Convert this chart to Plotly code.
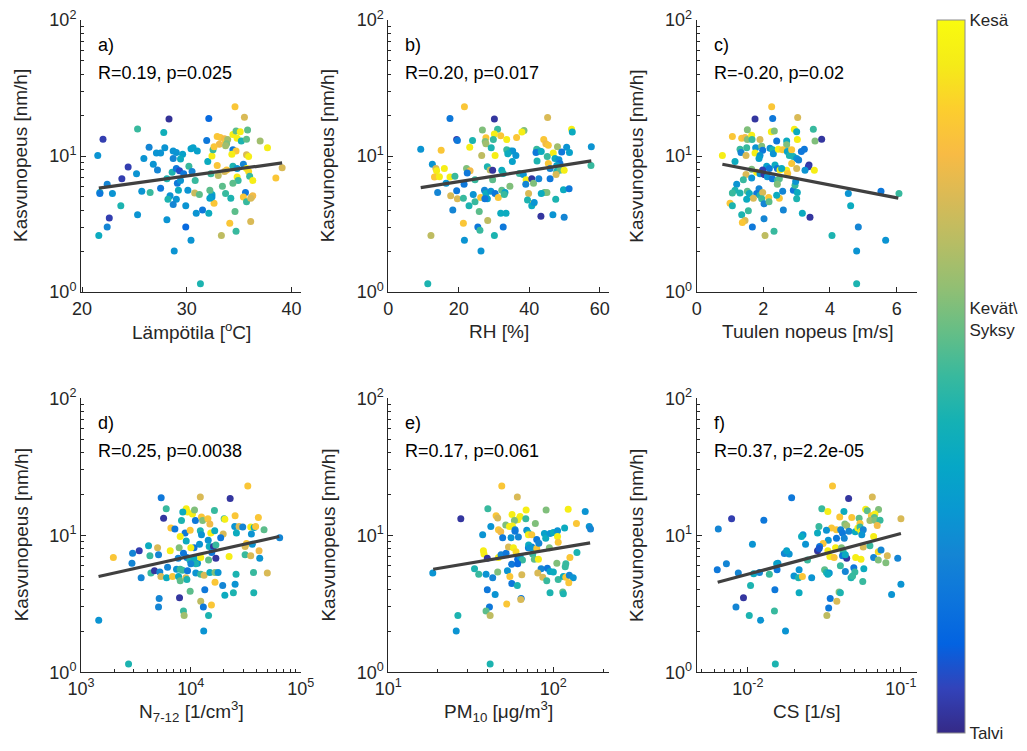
import plotly.graph_objects as go

# ---------------- data ----------------
# a) temperature
xa = [34.6, 35.5, 28.3, 32.1, 25.3, 27.8, 22.0, 21.5, 26.4, 25.9,
      27.1, 27.5, 27.9, 28.7, 29.0, 29.6, 28.7, 29.4, 30.4, 30.6,
      31.0, 31.9, 24.4, 26.8, 27.2, 25.2, 23.8, 28.6, 29.0, 29.3,
      29.7, 30.2, 30.5, 28.1, 29.1, 29.4, 30.8, 22.4, 21.7, 21.7,
      22.9, 25.7, 26.5, 27.5, 28.4, 28.2, 29.0, 28.7, 29.2, 30.1,
      29.9, 30.75, 31.2, 30.9, 31.5, 32.1, 23.7, 25.3, 22.6, 22.4,
      21.6, 28.1, 29.9, 30.4, 28.8, 31.3, 32.0, 32.3, 32.4, 32.5,
      32.9, 33.2, 33.6, 33.7, 33.1, 32.6, 33.9, 33.8, 33.7, 34.4,
      34.7, 35.1, 34.8, 35.2, 35.7, 35.8, 37.0, 37.7, 34.4, 34.7,
      34.3, 35.7, 35.9, 35.4, 34.4, 34.8, 35.7, 35.9, 34.8, 34.9,
      34.4, 33.8, 33.6, 33.0, 33.4, 33.7, 34.2, 35.6, 35.4, 35.7,
      36.2, 36.3, 36.1, 36.0, 36.3, 32.6, 34.6, 34.1, 36.1, 33.3,
      34.7, 38.5, 39.1, 32.4, 32.4, 32.2, 32.2, 32.9]
ya = [23.0, 19.3, 18.7, 18.9, 15.8, 14.9, 13.3, 10.1, 11.6, 9.6,
      10.5, 10.5, 11.5, 10.9, 10.6, 10.3, 9.6, 9.5, 11.3, 11.5,
      10.9, 13.0, 8.3, 8.7, 7.9, 7.4, 6.8, 7.6, 8.1, 7.8,
      7.4, 8.4, 7.7, 6.8, 6.3, 6.6, 6.6, 6.2, 5.4, 5.3,
      5.3, 5.5, 5.4, 5.8, 5.1, 4.8, 4.8, 4.4, 5.6, 5.6,
      4.3, 5.35, 5.2, 3.8, 4.0, 3.8, 4.3, 3.7, 3.5, 3.0,
      2.6, 3.4, 3.0, 2.4, 2.0, 1.15, 9.1, 7.4, 10.0, 11.1,
      13.9, 13.7, 13.4, 12.6, 12.2, 11.7, 13.2, 12.3, 11.9, 14.4,
      15.3, 15.1, 13.5, 12.9, 13.3, 15.5, 12.9, 11.5, 11.1, 10.9,
      10.3, 10.2, 9.9, 8.7, 8.4, 8.1, 8.1, 7.7, 7.0, 6.6,
      6.3, 7.9, 7.7, 7.2, 6.0, 5.3, 4.9, 5.4, 5.0, 4.6,
      5.0, 5.1, 4.9, 7.1, 6.6, 4.5, 3.9, 3.2, 3.3, 2.6,
      2.8, 6.9, 8.2, 5.2, 5.0, 4.9, 5.6, 8.5]
ca = [.85, .75, .02, .15, .5, .42, .05, .3, .25, .3,
      .3, .3, .3, .3, .3, .35, .25, .4, .35, .35,
      .35, .2, .05, .3, .25, .3, .05, .45, .2, .08,
      .2, .5, .25, .45, .2, .3, .5, .25, .4, .2,
      .3, .3, .5, .2, .3, .45, .3, .25, .4, .3,
      .3, .72, .55, .3, .2, .4, .45, .3, .05, .25,
      .4, .3, .15, .3, .3, .45, .4, .5, .95, .5,
      .85, .85, .8, .85, .8, .85, .65, .6, .65, .95,
      .55, .95, .95, .45, .55, .55, .65, .95, .2, .85,
      .95, .75, .95, .25, .45, .3, .95, .9, .95, .5,
      .55, .85, .75, .7, .55, .5, .45, .2, .85, .5,
      .75, .8, .75, .5, .95, .85, .55, .85, .75, .7,
      .5, .85, .75, .4, .3, .35, .55, .85]

# b) RH
xb = [21.6, 17.5, 30.1, 45.2, 26.7, 31.0, 38.5, 37.9, 52.0, 52.2,
      9.2, 15.0, 19.4, 19.6, 23.9, 27.7, 27.5, 27.7, 30.1, 29.8,
      31.9, 33.6, 36.4, 23.1, 26.5, 29.2, 30.3, 33.6, 34.7, 35.3,
      33.9, 36.2, 35.2, 12.5, 13.5, 13.7, 13.1, 14.5, 15.9, 17.5,
      18.9, 16.4, 14.0, 19.4, 17.7, 19.6, 21.3, 18.3, 22.2, 23.2,
      22.4, 24.6, 21.5, 24.1, 22.9, 24.6, 25.8, 26.2, 27.3, 27.7,
      28.1, 27.4, 28.1, 28.9, 29.6, 29.6, 29.1, 30.3, 31.2, 32.2,
      32.6, 32.2, 33.1, 32.9, 34.5, 31.9, 33.4, 28.2, 25.4, 26.0,
      32.6, 30.1, 21.6, 26.3, 21.3, 12.1, 11.2, 37.2, 38.3, 39.1,
      40.7, 41.2, 39.0, 39.8, 39.5, 41.2, 40.7, 41.4, 42.1, 42.9,
      41.9, 43.4, 44.1, 44.7, 45.4, 48.0, 46.8, 49.2, 50.6, 51.4,
      42.2, 45.1, 45.4, 47.3, 48.4, 48.7, 47.8, 45.9, 47.8, 48.7,
      49.9, 47.6, 42.7, 45.9, 44.3, 45.0, 43.4, 47.5, 46.7, 43.3,
      49.9, 49.7, 51.3, 57.6, 57.5]
yb = [23.0, 18.9, 18.7, 19.2, 15.5, 15.7, 15.4, 15.0, 15.7, 15.0,
      11.2, 11.0, 13.2, 13.0, 13.0, 13.6, 12.8, 12.3, 14.5, 13.2,
      14.1, 13.2, 13.7, 11.6, 10.1, 11.5, 10.1, 11.1, 10.9, 10.9,
      10.4, 10.1, 9.1, 8.7, 8.1, 7.8, 7.0, 7.05, 8.1, 7.0,
      7.1, 6.3, 5.4, 5.55, 5.1, 4.85, 4.9, 4.0, 8.1, 7.8,
      7.5, 6.7, 6.2, 5.2, 4.3, 4.6, 3.9, 4.95, 5.6, 5.3,
      4.85, 4.85, 8.35, 7.9, 7.85, 6.7, 5.5, 5.3, 4.95, 7.85,
      7.45, 5.6, 5.4, 5.2, 6.0, 3.8, 3.8, 3.35, 3.0, 2.85,
      3.0, 2.6, 2.4, 2.0, 3.2, 2.6, 1.15, 7.45, 7.3, 6.7,
      6.8, 6.3, 6.2, 5.3, 4.75, 4.5, 4.3, 4.55, 11.2, 10.9,
      10.6, 10.8, 13.2, 12.3, 12.0, 11.7, 10.5, 10.7, 11.6, 10.6,
      9.2, 9.9, 8.8, 9.6, 9.4, 8.8, 8.5, 8.1, 7.7, 7.85,
      7.85, 7.3, 6.8, 6.8, 5.4, 5.4, 5.3, 4.8, 3.7, 3.6,
      3.55, 5.65, 5.75, 11.7, 8.5]
cb = [.85, .2, .03, .75, .6, .5, .6, .95, .95, .4,
      .3, .85, .05, .2, .45, .85, .6, .65, .95, .5,
      .85, .95, .85, .95, .7, .45, .95, .5, .45, .3,
      .4, .3, .35, .3, .75, .95, .85, .95, .95, .95,
      .5, .3, .25, .2, .75, .75, .5, .25, .6, .8,
      .2, .5, .2, .3, .45, .5, .55, .85, .25, .4,
      .35, .2, .45, .7, .03, .55, .3, .2, .85, .4,
      .45, .55, .35, .5, .6, .4, .4, .7, .2, .5,
      .2, .45, .3, .3, .85, .7, .45, .5, .3, .95,
      .03, .6, .25, .75, .45, .85, .4, .3, .5, .45,
      .2, .4, .85, .8, .85, .65, .95, .2, .3, .35,
      .45, .5, .85, .4, .3, .2, .35, .25, .45, .55,
      .95, .75, .25, .2, .55, .6, .4, .45, .3, .03,
      .25, .4, .2, .3, .5]

# c) wind speed
xc = [2.25, 2.28, 1.75, 3.03, 3.5, 3.55, 3.75, 2.93, 3.02, 3.0,
      2.24, 2.33, 1.07, 1.35, 1.45, 1.52, 1.65, 1.66, 1.52, 1.9,
      2.4, 2.7, 2.7, 1.3, 1.33, 1.5, 1.48, 1.77, 1.75, 1.95,
      1.98, 1.9, 1.87, 2.2, 2.28, 2.3, 2.45, 2.58, 2.72, 2.78,
      2.85, 2.9, 3.0, 3.06, 3.14, 3.23, 0.77, 1.15, 2.85, 3.0,
      3.37, 3.35, 3.25, 3.53, 2.7, 2.73, 2.1, 2.18, 2.35, 2.42,
      2.5, 2.55, 1.65, 1.8, 1.9, 1.98, 2.02, 2.12, 1.48, 1.4,
      1.65, 2.27, 2.42, 2.48, 2.42, 1.2, 1.15, 1.07, 1.3, 1.52,
      1.58, 1.87, 1.8, 1.9, 1.98, 1.95, 1.7, 1.5, 2.16, 2.02,
      2.17, 2.58, 2.48, 2.4, 2.9, 3.02, 3.0, 2.95, 2.97, 1.0,
      1.07, 1.55, 1.35, 1.45, 1.37, 1.67, 2.02, 2.6, 3.17, 3.4,
      2.05, 2.32, 4.55, 5.53, 6.07, 4.62, 4.85, 4.06, 5.67, 4.8,
      4.8]
yc = [23.0, 18.9, 18.7, 19.2, 15.7, 12.9, 13.3, 15.7, 13.2, 15.1,
      15.1, 15.3, 13.9, 13.5, 13.7, 13.2, 14.2, 13.2, 15.6, 13.2,
      12.9, 12.9, 12.1, 11.2, 10.6, 11.5, 10.1, 11.5, 10.5, 11.8,
      11.0, 10.1, 9.6, 11.4, 11.1, 10.4, 11.2, 11.1, 10.8, 10.1,
      11.1, 9.9, 9.6, 9.35, 10.8, 11.2, 10.1, 9.1, 8.8, 8.1,
      8.6, 8.35, 7.85, 7.85, 7.85, 7.45, 8.4, 8.1, 8.6, 8.1,
      7.9, 8.1, 8.0, 7.6, 7.4, 7.9, 7.3, 7.05, 7.3, 6.7,
      6.9, 6.8, 6.6, 6.8, 6.2, 6.2, 5.6, 5.35, 5.35, 5.5,
      5.3, 5.75, 5.3, 5.15, 5.4, 4.85, 4.9, 4.8, 4.95, 4.45,
      4.6, 5.5, 4.9, 5.15, 5.6, 5.4, 4.85, 6.1, 6.5, 4.5,
      4.3, 3.95, 3.7, 3.35, 3.25, 3.0, 3.45, 4.0, 3.8, 3.55,
      2.6, 2.8, 5.3, 5.5, 5.3, 4.3, 3.0, 2.6, 2.4, 2.0,
      1.15]
cc = [.85, .2, .03, .75, .5, .6, .03, .95, .95, .4,
      .95, .6, .85, .85, .8, .6, .95, .5, .6, .75,
      .2, .4, .6, .5, .25, .5, .75, .3, .95, .6,
      .2, .3, .35, .3, .45, .3, .95, .85, .35, .45,
      .85, .45, .3, .25, .2, .2, .95, .4, .85, .75,
      .03, .05, .3, .95, .95, .85, .35, .2, .4, .2,
      .95, .4, .6, .95, .3, .05, .03, .3, .75, .5,
      .3, .2, .5, .55, .6, .3, .45, .5, .45, .55,
      .4, .25, .2, .45, .75, .5, .75, .4, .85, .25,
      .55, .25, .85, .4, .2, .4, .45, .5, .3, .85,
      .45, .5, .45, .75, .85, .2, .25, .25, .4, .03,
      .7, .5, .3, .2, .5, .4, .25, .45, .3, .3,
      .45]

# d) N 7-12
xd = [33000, 5370, 12200, 22800, 5970, 9080, 9330, 10350, 8450, 10800,
      16400, 5650, 8220, 11000, 12500, 12800, 14300, 14900, 20100, 20400,
      25300, 41200, 6580, 7160, 8870, 9860, 12200, 12500, 15200, 16500,
      19700, 18700, 25100, 27500, 29700, 26000, 35100, 37700, 38900, 46400,
      35600, 8000, 9080, 12000, 10700, 14400, 14700, 16100, 16900, 15500,
      16900, 10000, 4120, 4980, 6490, 7830, 8570, 2950, 3390, 1970,
      4240, 5080, 2910, 7670, 9200, 9790, 10700, 11500, 11100, 12300,
      14500, 22300, 31200, 32100, 31200, 36300, 41800, 35100, 42400, 64400,
      6140, 7410, 8000, 4330, 4670, 5220, 3530, 5340, 6010, 6810,
      7730, 8000, 9010, 9200, 8400, 9330, 10000, 11100, 12300, 13200,
      14900, 16600, 17700, 16600, 19500, 25300, 25800, 37200, 49700, 20400,
      24400, 37400, 13400, 9860, 7890, 5150, 5080, 12300, 13000, 15400,
      8570, 8690, 14500, 13100, 1450, 2710]
yd = [22.9, 18.8, 19.0, 18.6, 15.6, 15.6, 14.8, 14.3, 14.8, 15.3,
      15.2, 13.3, 12.8, 12.8, 13.6, 12.8, 13.2, 12.1, 13.2, 13.1,
      13.9, 13.5, 11.3, 11.1, 10.4, 10.9, 10.8, 10.1, 10.4, 10.8,
      10.2, 9.6, 11.6, 11.6, 11.5, 10.4, 11.5, 11.4, 11.6, 11.0,
      10.2, 9.8, 9.1, 8.6, 8.1, 9.2, 8.3, 8.3, 8.5, 7.5,
      6.8, 8.1, 8.4, 8.1, 7.7, 8.1, 7.4, 7.4, 7.7, 6.9,
      7.1, 7.2, 6.25, 6.8, 6.9, 6.6, 6.8, 6.25, 6.2, 6.9,
      6.6, 7.0, 7.2, 8.7, 8.3, 8.6, 7.7, 7.1, 6.8, 9.6,
      5.85, 5.65, 5.65, 5.3, 5.5, 5.4, 4.9, 5.0, 4.9, 5.0,
      5.0, 4.65, 4.9, 4.75, 5.55, 5.5, 6.2, 5.3, 5.2, 5.1,
      5.35, 5.35, 5.35, 4.55, 4.3, 4.4, 5.2, 5.35, 5.3, 3.65,
      3.8, 3.8, 4.0, 3.9, 3.5, 3.45, 3.0, 3.3, 3.0, 3.1,
      2.8, 2.6, 2.6, 2.0, 2.4, 1.15]
cd = [.85, .2, .75, .03, .5, .95, .95, .95, .4, .6,
      .5, .03, .45, .2, .85, .6, .85, .8, .5, .95,
      .85, .85, .85, .2, .2, .85, .45, .3, .95, .4,
      .75, .2, .3, .75, .25, .4, .95, .4, .85, .55,
      .3, .95, .4, .3, .2, .3, .4, .03, .5, .2,
      .03, .95, .4, .75, .95, .6, .2, .25, .05, .85,
      .5, .25, .25, .25, .2, .45, .4, .3, .45, .95,
      .55, .95, .5, .85, .75, .3, .8, .75, .3, .25,
      .25, .3, .5, .5, .03, .25, .25, .75, .4, .85,
      .4, .55, .75, .45, .5, .2, .25, .3, .5, .75,
      .4, .6, .3, .85, .25, .3, .45, .5, .75, .4,
      .45, .45, .2, .55, .03, .25, .25, .7, .2, .85,
      .5, .65, .45, .3, .3, .45]

# e) PM10
xe = [48.7, 60.5, 27.5, 40.1, 90.4, 123, 156, 45.0, 46.0, 56.2,
      62.9, 68.4, 60.8, 58.1, 68.1, 77.8, 51.5, 54.2, 56.5, 138,
      165, 168, 41.8, 46.5, 48.0, 58.6, 58.6, 69.0, 70.6, 70.6,
      74.0, 37.3, 49.3, 55.4, 61.4, 88.3, 89.9, 95.5, 100, 106,
      117, 106, 107, 37.7, 38.0, 39.8, 46.5, 48.2, 51.7, 53.5,
      57.3, 59.4, 60.8, 62.9, 65.0, 55.9, 60.8, 70.6, 74.0, 76.7,
      79.3, 75.0, 76.7, 81.2, 70.8, 71.9, 94.6, 139, 126, 105,
      119, 118, 84.3, 92.0, 95.5, 100, 80.5, 86.3, 91.2, 107,
      115, 119, 125, 132, 124, 95.5, 114, 115, 33.3, 35.3,
      39.1, 42.9, 46.0, 52.7, 54.5, 56.0, 60.5, 64.4, 39.8, 44.4,
      63.8, 63.5, 52.2, 41.0, 39.1, 41.4, 26.4, 25.8, 41.4, 18.6,
      79.3, 81.7]
ye = [22.9, 19.0, 13.2, 15.6, 15.3, 15.5, 14.9, 13.9, 13.4, 14.2,
      13.7, 15.3, 13.0, 12.8, 13.2, 12.2, 11.9, 11.6, 11.7, 12.2,
      11.6, 11.1, 11.6, 11.0, 10.6, 11.0, 10.7, 10.9, 10.4, 10.1,
      10.1, 10.1, 9.6, 9.6, 9.7, 10.3, 9.5, 10.3, 10.5, 10.8,
      11.3, 9.8, 8.9, 7.7, 7.3, 6.8, 6.9, 7.2, 7.4, 8.2,
      8.1, 7.6, 6.7, 7.0, 6.6, 6.15, 6.2, 8.1, 8.2, 7.9,
      8.0, 7.3, 6.7, 6.7, 8.5, 8.1, 8.1, 7.5, 6.9, 6.25,
      6.2, 5.9, 5.7, 5.75, 5.45, 5.4, 5.3, 4.95, 4.65, 4.75,
      5.0, 4.95, 5.1, 4.9, 4.5, 3.8, 3.85, 3.75, 5.7, 5.2,
      5.2, 4.9, 5.4, 5.5, 5.0, 4.45, 4.3, 5.15, 4.0, 3.7,
      3.45, 3.4, 3.15, 3.0, 2.8, 2.6, 2.6, 2.0, 1.15, 5.3,
      9.3, 8.75]
ce = [.85, .75, .03, .5, .6, .95, .3, .85, .75, .95,
      .95, .95, .95, .6, .5, .6, .6, .95, .95, .85,
      .3, .25, .3, .85, .8, .25, .2, .3, .45, .95,
      .85, .3, .2, .3, .25, .35, .4, .3, .4, .3,
      .4, .95, .85, .95, .95, .03, .95, .25, .2, .75,
      .95, .9, .15, .3, .5, .2, .15, .2, .25, .4,
      .85, .5, .55, .95, .4, .3, .6, .45, .85, .6,
      .5, .5, .25, .2, .35, .4, .75, .75, .5, .5,
      .4, .85, .25, .3, .85, .45, .55, .45, .45, .5,
      .3, .25, .6, .3, .85, .2, .45, .75, .2, .3,
      .2, .75, .85, .2, .55, .7, .45, .3, .45, .3,
      .2, .25]

# f) CS
xf = [0.0357, 0.065, 0.0455, 0.0193, 0.00782, 0.0127, 0.0064, 0.0304, 0.0333, 0.0424,
      0.0588, 0.0603, 0.0714, 0.0398, 0.0477, 0.0533, 0.054, 0.0641, 0.0676, 0.0671,
      0.0627, 0.0676, 0.073, 0.043, 0.0442, 0.1, 0.07, 0.0291, 0.0352, 0.0379,
      0.0326, 0.0404, 0.0415, 0.0457, 0.0503, 0.0523, 0.054, 0.0548, 0.0567, 0.0555,
      0.0285, 0.0229, 0.0224, 0.0335, 0.0379, 0.0426, 0.0663, 0.031, 0.0238, 0.0107,
      0.0294, 0.0285, 0.0292, 0.0333, 0.0343, 0.0374, 0.0409, 0.0419, 0.0366, 0.0415,
      0.0442, 0.0433, 0.0506, 0.0548, 0.0567, 0.0627, 0.0711, 0.0741, 0.0663, 0.0711,
      0.0815, 0.0797, 0.0953, 0.1, 0.0869, 0.0173, 0.0186, 0.0179, 0.0157, 0.0154,
      0.0155, 0.0245, 0.00723, 0.0063, 0.00865, 0.0109, 0.0119, 0.0138, 0.02, 0.0216,
      0.0214, 0.0227, 0.0261, 0.0317, 0.0326, 0.034, 0.0333, 0.0402, 0.0433, 0.0492,
      0.05, 0.0472, 0.0483, 0.0572, 0.0563, 0.0104, 0.0216, 0.015, 0.00935, 0.00835,
      0.0102, 0.0121, 0.0149, 0.0176, 0.0151, 0.0345, 0.0394, 0.0402, 0.0337, 0.0381,
      0.0328]
yf = [22.9, 19.0, 18.6, 18.8, 13.2, 12.9, 11.1, 15.6, 14.9, 14.9,
      15.5, 15.1, 15.4, 13.6, 13.5, 13.3, 12.2, 13.9, 14.3, 13.5,
      12.8, 12.9, 12.9, 12.1, 11.8, 13.2, 11.8, 11.6, 11.3, 11.0,
      10.9, 11.0, 10.4, 10.7, 10.6, 11.3, 11.5, 10.7, 11.0, 10.1,
      10.4, 10.1, 9.8, 9.2, 9.5, 9.5, 9.8, 8.7, 8.6, 8.6,
      8.3, 7.7, 8.0, 7.7, 7.0, 8.1, 8.1, 7.6, 6.9, 7.1,
      6.8, 7.2, 6.9, 6.7, 8.2, 8.4, 7.6, 7.8, 6.9, 6.6,
      7.1, 6.3, 6.8, 4.4, 3.7, 7.35, 7.3, 7.7, 6.25, 6.2,
      5.6, 6.6, 6.2, 5.6, 5.3, 5.25, 5.35, 5.2, 5.05, 5.6,
      4.9, 5.0, 4.9, 5.6, 5.35, 5.3, 5.2, 6.0, 5.45, 5.8,
      5.4, 4.9, 5.05, 5.7, 4.6, 4.3, 3.8, 4.0, 3.5, 3.0,
      2.6, 2.4, 2.8, 2.0, 1.15, 3.45, 3.85, 3.8, 2.95, 3.3,
      2.6]
cf = [.85, .75, .03, .2, .05, .2, .25, .5, .95, .4,
      .95, .55, .6, .85, .85, .55, .85, .85, .95, .55,
      .65, .6, .5, .6, .65, .75, .8, .5, .85, .85,
      .3, .25, .2, .25, .4, .95, .5, .95, .25, .3,
      .4, .3, .4, .3, .2, .25, .95, .85, .3, .3,
      .2, .03, .1, .95, .95, .95, .6, .5, .85, .2,
      .03, .4, .95, .95, .75, .5, .9, .25, .25, .6,
      .75, .6, .25, .3, .3, .25, .3, .35, .3, .35,
      .2, .5, .25, .2, .25, .4, .25, .5, .3, .3,
      .45, .85, .3, .55, .45, .3, .4, .5, .25, .2,
      .5, .45, .5, .4, .5, .45, .4, .2, .03, .25,
      .45, .3, .5, .3, .45, .2, .6, .45, .2, .75,
      .7]

# regression line end points
fit_a_x, fit_a_y = [21.6, 39.1], [5.8, 8.9]
fit_b_x, fit_b_y = [9.2, 57.6], [5.85, 9.2]
fit_c_x, fit_c_y = [0.77, 6.05], [8.7, 4.9]
fit_d_x, fit_d_y = [1445, 63800], [5.0, 9.8]
fit_e_x, fit_e_y = [18.7, 167], [5.65, 8.8]
fit_f_x, fit_f_y = [0.00634, 0.1], [4.54, 10.3]

panel_letters = ["a)", "b)", "c)", "d)", "e)", "f)"]
stats = ["R=0.19, p=0.025", "R=0.20, p=0.017", "R=-0.20, p=0.02",
         "R=0.25, p=0.0038", "R=0.17, p=0.061", "R=0.37, p=2.2e-05"]
x_titles = ["Lämpötila [<sup>o</sup>C]", "RH [%]", "Tuulen nopeus [m/s]",
            "N<sub>7-12</sub> [1/cm<sup>3</sup>]", "PM<sub>10</sub> [\u03bcg/m<sup>3</sup>]", "CS [1/s]"]
y_title = "Kasvunopeus [nm/h]"
season_ticks = [0.0, 0.58, 1.0]
season_labels = ["Talvi", "Kevät\\<br>Syksy", "Kesä"]

# ---------------- style ----------------
W, H = 1027, 751
FONT = "Liberation Sans, Arial, Helvetica, sans-serif"
INK = "#262626"

par = [
    [0.2081, 0.1663, 0.5292], [0.1959, 0.2645, 0.7279], [0.0117, 0.3875, 0.8820],
    [0.0498, 0.4586, 0.8641], [0.0793, 0.5200, 0.8312], [0.0343, 0.5966, 0.8199],
    [0.0228, 0.6535, 0.7768], [0.0843, 0.6928, 0.7062], [0.2178, 0.7250, 0.6193],
    [0.3953, 0.7459, 0.5244], [0.5709, 0.7485, 0.4494], [0.7184, 0.7411, 0.3905],
    [0.8507, 0.7299, 0.3360], [0.9739, 0.7314, 0.2666], [0.9880, 0.8066, 0.1794],
    [0.9598, 0.9218, 0.0948], [0.9763, 0.9831, 0.0538]]
parula = [[i / (len(par) - 1), "rgb(%d,%d,%d)" % tuple(round(v * 255) for v in c)]
          for i, c in enumerate(par)]

cols_px = [(81, 301), (388.3, 609.3), (696.7, 917.3)]
rows_px = [(20, 292), (398.3, 672.3)]

def fx(p):
    return p / W

def fy(p):
    return 1 - p / H

panels = [
    dict(x=xa, y=ya, c=ca, lx=fit_a_x, ly=fit_a_y, log=False, rng=[19.9, 40.9],
         tv=[20, 30, 40], tt=["20", "30", "40"]),
    dict(x=xb, y=yb, c=cb, lx=fit_b_x, ly=fit_b_y, log=False, rng=[0, 62.7],
         tv=[0, 20, 40, 60], tt=["0", "20", "40", "60"]),
    dict(x=xc, y=yc, c=cc, lx=fit_c_x, ly=fit_c_y, log=False, rng=[0, 6.62],
         tv=[0, 2, 4, 6], tt=["0", "2", "4", "6"]),
    dict(x=xd, y=yd, c=cd, lx=fit_d_x, ly=fit_d_y, log=True, rng=[3, 5.003],
         tv=[1e3, 1e4, 1e5], tt=["10<sup>3</sup>", "10<sup>4</sup>", "10<sup>5</sup>"]),
    dict(x=xe, y=ye, c=ce, lx=fit_e_x, ly=fit_e_y, log=True, rng=[1, 2.339],
         tv=[10, 100], tt=["10<sup>1</sup>", "10<sup>2</sup>"]),
    dict(x=xf, y=yf, c=cf, lx=fit_f_x, ly=fit_f_y, log=True, rng=[-2.335, -0.893],
         tv=[0.01, 0.1], tt=["10<sup>-2</sup>", "10<sup>-1</sup>"]),
]

minor_log = [m * 10.0 ** k for k in range(-3, 6) for m in range(2, 10)]

fig = go.Figure()
layout = dict(width=W, height=H, autosize=False,
              margin=dict(l=0, r=0, t=0, b=0, pad=0, autoexpand=False),
              paper_bgcolor="white", plot_bgcolor="white",
              showlegend=False, font=dict(family=FONT, color=INK, size=18))
annotations = []

for i, p in enumerate(panels):
    r, c = divmod(i, 3)
    x0, x1 = cols_px[c]
    y0, y1 = rows_px[r]
    n = "" if i == 0 else str(i + 1)
    xa_id, ya_id = "x" + n, "y" + n
    fig.add_trace(go.Scatter(
        x=p["x"], y=p["y"], mode="markers", xaxis=xa_id, yaxis=ya_id,
        marker=dict(size=7, color=p["c"], colorscale=parula, cmin=0, cmax=1,
                    line=dict(width=0), showscale=(i == 0),
                    colorbar=dict(x=fx(937), xanchor="left", y=fy((20 + 733) / 2),
                                  yanchor="middle", len=(733 - 20) / H, lenmode="fraction",
                                  thickness=28, thicknessmode="pixels",
                                  xpad=0, ypad=0,
                                  outlinewidth=1, outlinecolor="#8c8c8c",
                                  tickmode="array", tickvals=season_ticks,
                                  ticktext=season_labels, ticks="",
                                  tickfont=dict(family=FONT, size=17, color=INK)))))
    fig.add_trace(go.Scatter(
        x=p["lx"], y=p["ly"], mode="lines", xaxis=xa_id, yaxis=ya_id,
        line=dict(color="#404040", width=3.2)))

    xax = dict(domain=[fx(x0), fx(x1)], anchor=ya_id, range=p["rng"],
               type="log" if p["log"] else "linear", automargin=False,
               tickmode="array", tickvals=p["tv"], ticktext=p["tt"],
               ticks="inside", ticklen=5, tickcolor=INK, tickwidth=1,
               showline=True, linecolor=INK, linewidth=1, mirror=False,
               showgrid=False, zeroline=False,
               tickfont=dict(family=FONT, size=18, color=INK))
    if p["log"]:
        xax["minor"] = dict(tickmode="array", tickvals=minor_log, ticks="inside",
                            ticklen=3, tickcolor=INK, showgrid=False)
    yax = dict(domain=[fy(y1), fy(y0)], anchor=xa_id, type="log", range=[0, 2],
               automargin=False,
               tickmode="array", tickvals=[1, 10, 100],
               ticktext=["10<sup>0</sup>", "10<sup>1</sup>", "10<sup>2</sup>"],
               ticks="inside", ticklen=5, tickcolor=INK, tickwidth=1,
               minor=dict(tickmode="array", tickvals=minor_log, ticks="inside",
                          ticklen=3, tickcolor=INK, showgrid=False),
               showline=True, linecolor=INK, linewidth=1, mirror=False,
               showgrid=False, zeroline=False,
               tickfont=dict(family=FONT, size=18, color=INK))
    layout["xaxis" + n] = xax
    layout["yaxis" + n] = yax

    # titles and labels
    annotations.append(dict(x=fx(x0 - 60), y=fy((y0 + y1) / 2), xref="paper", yref="paper",
                            text=y_title, textangle=-90, showarrow=False,
                            xanchor="center", yanchor="middle",
                            font=dict(family=FONT, size=19, color=INK)))
    annotations.append(dict(x=fx((x0 + x1) / 2), y=fy(y1 + 39), xref="paper", yref="paper",
                            text=x_titles[i], showarrow=False,
                            xanchor="center", yanchor="middle",
                            font=dict(family=FONT, size=19, color=INK)))
    annotations.append(dict(x=fx(x0 + 15), y=fy(y0 + 25), xref="paper", yref="paper",
                            text=panel_letters[i], showarrow=False,
                            xanchor="left", yanchor="middle",
                            font=dict(family=FONT, size=18, color="black")))
    annotations.append(dict(x=fx(x0 + 15), y=fy(y0 + 53), xref="paper", yref="paper",
                            text=stats[i], showarrow=False,
                            xanchor="left", yanchor="middle",
                            font=dict(family=FONT, size=18, color="black")))

layout["annotations"] = annotations
fig.update_layout(**layout)
fig.write_html("out.html")
